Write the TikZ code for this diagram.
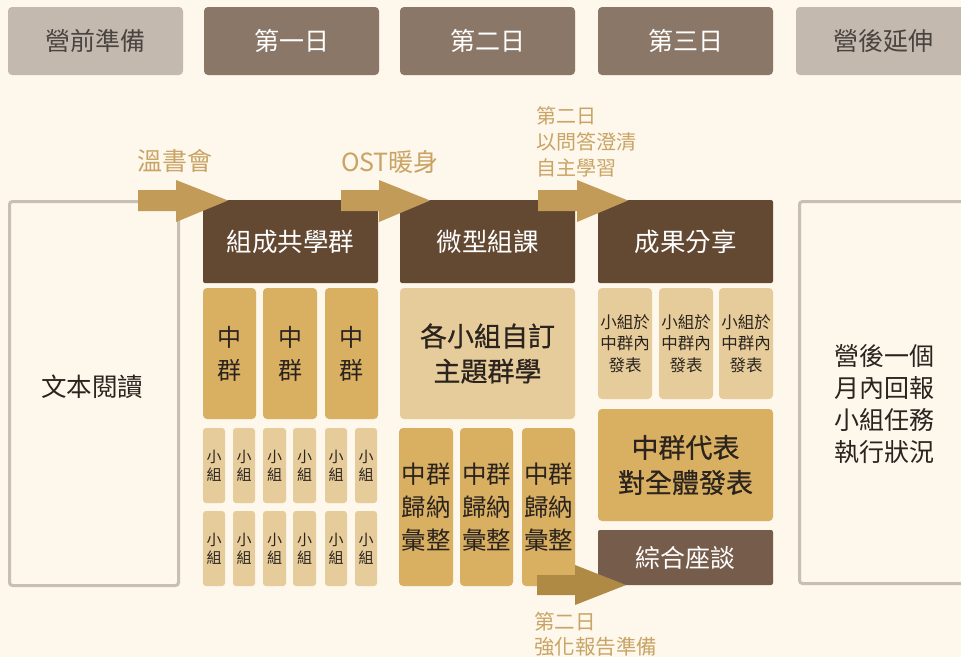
\documentclass[tikz,border=0pt]{standalone}
\usepackage{fontspec}
\setmainfont{Noto Sans CJK TC}
\newfontfamily\medfont{Noto Sans CJK TC}[FakeBold=0.6]
\definecolor{bg}{HTML}{FDF7EC}
\definecolor{hdrLight}{HTML}{C4B9AF}
\definecolor{hdrDark}{HTML}{8B7767}
\definecolor{darkHead}{HTML}{634832}
\definecolor{midGold}{HTML}{D9AF62}
\definecolor{lightGold}{HTML}{E6CC9A}
\definecolor{talkBrown}{HTML}{765C4B}
\definecolor{arrowGold}{HTML}{C29B59}
\definecolor{arrowDark}{HTML}{AE8A45}
\definecolor{labelGold}{HTML}{C9A465}
\definecolor{outlineGray}{HTML}{C7BEB6}
\definecolor{txtDark}{HTML}{2A231E}
\newcommand{\fs}[2]{\fontsize{#1}{#2}\selectfont}
\begin{document}
\begin{tikzpicture}[x=1pt,y=-1pt,
  box/.style={inner sep=0pt,outer sep=0pt,align=center,rounded corners=4pt},
  hdrL/.style={box,fill=hdrLight,text=txtDark!85,font=\fs{25}{30}},
  hdrD/.style={box,fill=hdrDark,text=white,font=\fs{25}{30}},
  headbox/.style={box,rounded corners=2pt,fill=darkHead,text=white,font=\fs{25.5}{30}},
  midbox/.style={box,fill=midGold,text=txtDark},
  lightbox/.style={box,fill=lightGold,text=txtDark},
  outbox/.style={draw=outlineGray,line width=3pt,rounded corners=3pt},
  lbl/.style={inner sep=0pt,text=labelGold},
]
\useasboundingbox (0,0) rectangle (961,657);
\fill[bg] (0,0) rectangle (961,657);

\newcommand{\bx}[7]{\node[#1,minimum width=#4-#2,minimum height=#5-#3] (#6) at ({(#2+#4)/2},{(#3+#5)/2}) {#7};}

% header row
\bx{hdrL}{8}{7}{183}{75}{h0}{營前準備}
\bx{hdrD}{204}{7}{379}{75}{h1}{第一日}
\bx{hdrD}{400}{7}{575}{75}{h2}{第二日}
\bx{hdrD}{598}{7}{773}{75}{h3}{第三日}
\bx{hdrL}{796}{7}{971}{75}{h4}{營後延伸}

% outline boxes
\draw[outbox] (9.5,201.5) rectangle (178.5,585.5);
\node[text=txtDark,font=\fs{25.5}{30},inner sep=0pt] (read) at (92,387) {文本閱讀};
\draw[outbox] (799.5,201.5) rectangle (980,583.5);
\node[text=txtDark,font=\fs{25}{32},inner sep=0pt,align=center] (after) at (884,404) {營後一個\\月內回報\\小組任務\\執行狀況};

% dark heads
\bx{headbox}{203}{200}{378}{283}{d1}{組成共學群}
\bx{headbox}{400}{200}{575}{283}{d2}{微型組課}
\bx{headbox}{598}{200}{773}{283}{d3}{成果分享}

% day 1
\bx{midbox,font=\fs{24}{33}}{203}{288}{256}{419}{m1}{中\\群}
\bx{midbox,font=\fs{24}{33}}{263}{288}{317}{419}{m2}{中\\群}
\bx{midbox,font=\fs{24}{33}}{325}{288}{378}{419}{m3}{中\\群}
\foreach \a/\b [count=\i] in {203/225,233/255,263/286,293/316,325/347,355/377}{
  \bx{lightbox,rounded corners=3pt,font=\fs{15}{18}}{\a}{428}{\b}{503}{sa\i}{小\\組}
  \bx{lightbox,rounded corners=3pt,font=\fs{15}{18}}{\a}{511}{\b}{586}{sb\i}{小\\組}
}

% day 2
\bx{lightbox,font=\medfont\fs{27}{35}}{400}{288}{575}{419}{topic}{各小組自訂\\主題群學}
\bx{midbox,font=\fs{24.5}{33}}{399}{428}{453}{586}{g1}{中群\\歸納\\彙整}
\bx{midbox,font=\fs{24.5}{33}}{460}{428}{513}{586}{g2}{中群\\歸納\\彙整}
\bx{midbox,font=\fs{24.5}{33}}{522}{428}{575}{586}{g3}{中群\\歸納\\彙整}

% day 3
\bx{lightbox,font=\fs{16.5}{21.5}}{598}{288}{652}{399}{p1}{小組於\\中群內\\發表}
\bx{lightbox,font=\fs{16.5}{21.5}}{659}{288}{713}{399}{p2}{小組於\\中群內\\發表}
\bx{lightbox,font=\fs{16.5}{21.5}}{719}{288}{773}{399}{p3}{小組於\\中群內\\發表}
\bx{midbox,font=\medfont\fs{27}{35}}{598}{409}{773}{521}{rep}{中群代表\\對全體發表}
\bx{box,rounded corners=2pt,fill=talkBrown,text=white,font=\fs{25}{30}}{598}{530}{773}{585}{talk}{綜合座談}

% block arrows
\fill[arrowGold] (138,190) -- (176,190) -- (176,180) -- (228,200.5) -- (176,222) -- (176,211) -- (138,211) -- cycle;
\fill[arrowGold] (341,190) -- (379,190) -- (379,180) -- (430,200.5) -- (379,222) -- (379,211) -- (341,211) -- cycle;
\fill[arrowGold] (538,190) -- (577,190) -- (577,180) -- (628,200.5) -- (577,222) -- (577,211) -- (538,211) -- cycle;
\fill[arrowDark] (537,575) -- (575,575) -- (575,565) -- (626,585) -- (575,605) -- (575,595) -- (537,595) -- cycle;

% arrow labels
\node[lbl,font=\fs{25}{30}] (l1) at (174.5,161) {溫書會};
\node[lbl,font=\fs{25}{30}] (l2) at (390,162) {OST暖身};
\node[lbl,font=\fs{20}{26},align=left,anchor=west] (l3) at (536,142) {第二日\\以問答澄清\\自主學習};
\node[lbl,font=\fs{20.5}{25},align=left,anchor=west] (l4) at (534,634.5) {第二日\\強化報告準備};
\end{tikzpicture}
\end{document}
